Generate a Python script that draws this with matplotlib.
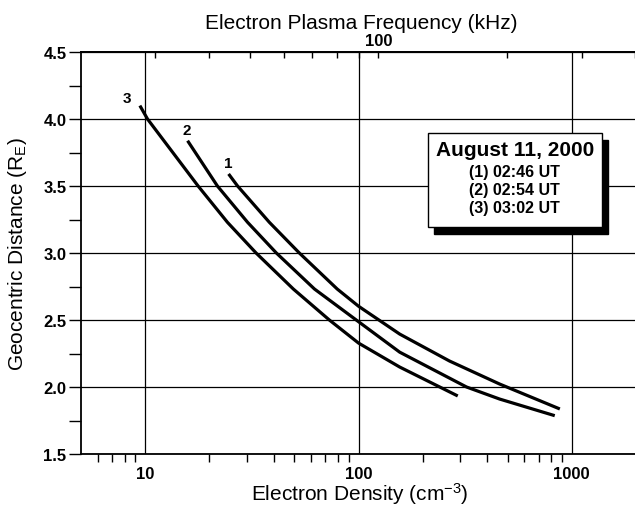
import matplotlib
matplotlib.use("Agg")
import matplotlib.pyplot as plt
from matplotlib.patches import Rectangle
from matplotlib.ticker import FixedLocator, NullFormatter
import numpy as np

plt.rcParams['font.family'] = ['Liberation Sans', 'DejaVu Sans']
plt.rcParams['mathtext.default'] = 'regular'

# curves: density (cm^-3) vs distance (RE)
dens_1 = [24.6, 27.1, 38.2, 52.8, 79.5, 100, 156, 267, 459, 879]
dist_1 = [3.59, 3.50, 3.229, 3.00, 2.731, 2.603, 2.395, 2.194, 2.022, 1.836]

dens_2 = [15.8, 21.8, 30.2, 41.2, 62.2, 97.6, 156, 321, 459, 832]
dist_2 = [3.838, 3.50, 3.229, 3.00, 2.731, 2.50, 2.26, 2.00, 1.91, 1.786]

dens_3 = [9.44, 10.25, 17.7, 24.3, 33.1, 49.5, 73.0, 100, 156, 292]
dist_3 = [4.10, 4.00, 3.50, 3.229, 3.00, 2.731, 2.50, 2.328, 2.149, 1.933]

curve_labels = ['1', '2', '3']
label_pos = [(24.5, 3.67), (15.6, 3.92), (8.2, 4.16)]

legend_title = 'August 11, 2000'
legend_lines = ['(1) 02:46 UT', '(2) 02:54 UT', '(3) 03:02 UT']

top_major = [100]
top_minor = [20, 30, 40, 50, 60, 70, 80, 90, 200, 300, 400]

W, H = 635, 506
fig = plt.figure(figsize=(W / 100, H / 100), dpi=100)
ax = fig.add_axes([81 / W, 1 - 455 / H, (636 - 81) / W, 402 / H])

for d, r in [(dens_1, dist_1), (dens_2, dist_2), (dens_3, dist_3)]:
    ax.plot(d, r, color='black', lw=2.3, solid_capstyle='butt', solid_joinstyle='round')

for lab, (x, y) in zip(curve_labels, label_pos):
    ax.text(x, y, lab, fontsize=11, fontweight='bold', ha='center', va='center')

ax.set_xscale('log')
ax.set_xlim(5, 2000)
ax.set_ylim(1.5, 4.5)

ax.set_yticks(np.arange(1.5, 4.51, 0.5))
ax.set_yticks(np.arange(1.75, 4.5, 0.5), minor=True)
ax.set_yticklabels(['%.1f' % v for v in np.arange(1.5, 4.51, 0.5)])
ax.set_xticks([10, 100, 1000])
ax.set_xticklabels(['10', '100', '1000'])
minor_x = [6, 7, 8, 9] + list(range(20, 100, 10)) + list(range(200, 1000, 100)) + [2000]
ax.xaxis.set_minor_locator(FixedLocator(minor_x))
ax.xaxis.set_minor_formatter(NullFormatter())

ax.tick_params(axis='y', which='both', direction='out', length=8.5, width=1,
               labelsize=12, pad=2, right=False)
ax.tick_params(axis='x', which='major', direction='out', length=0, labelsize=12, pad=9)
ax.tick_params(axis='x', which='minor', direction='out', length=5.8, width=1)
ax.tick_params(axis='x', top=False)
for t in ax.get_xticklabels() + ax.get_yticklabels():
    t.set_fontweight('bold')

ax.grid(True, which='major', color='black', lw=0.9)
for s in ['left', 'bottom', 'top']:
    ax.spines[s].set_linewidth(1.3)
ax.spines['right'].set_visible(False)

# plasma frequency axis: f (kHz) = 8.98 sqrt(n)
sec = ax.secondary_xaxis('top', functions=(lambda n: 8.98 * np.sqrt(np.abs(n)),
                                           lambda f: (f / 8.98) ** 2))
sec.xaxis.set_major_locator(FixedLocator(top_major))
sec.xaxis.set_minor_locator(FixedLocator(top_minor))
sec.xaxis.set_minor_formatter(NullFormatter())
sec.set_xticklabels([str(v) for v in top_major])
sec.tick_params(which='both', direction='in', length=4.5, width=1, labelsize=12, pad=3)
for t in sec.get_xticklabels():
    t.set_fontweight('bold')
sec.spines['top'].set_linewidth(1.3)

fig.text(361 / W, 1 - 24 / H, 'Electron Plasma Frequency (kHz)', fontsize=15,
         ha='center', va='center')
fig.text(360 / W, 1 - 494 / H, 'Electron Density (cm$^{-3}$)', fontsize=15,
         ha='center', va='center')
fig.text(18 / W, 1 - 254 / H, 'Geocentric Distance (R$_E$)', fontsize=15,
         ha='center', va='center', rotation=90)

# legend box with drop shadow
bx0, by0, bx1, by1 = 428, 134, 602, 228
fig.patches.append(Rectangle(((bx0 + 6) / W, 1 - (by1 + 7) / H), (bx1 - bx0) / W,
                             (by1 - by0) / H, transform=fig.transFigure,
                             facecolor='black', edgecolor='black', zorder=5))
fig.patches.append(Rectangle((bx0 / W, 1 - by1 / H), (bx1 - bx0) / W, (by1 - by0) / H,
                             transform=fig.transFigure, facecolor='white',
                             edgecolor='black', lw=1.0, zorder=6))
fig.text(515 / W, 1 - 151 / H, legend_title, fontsize=15, fontweight='bold',
         ha='center', va='center', zorder=7)
for i, line in enumerate(legend_lines):
    fig.text(514 / W, 1 - (173 + 18 * i) / H, line, fontsize=11.5, fontweight='bold',
             ha='center', va='center', zorder=7)

fig.savefig('out.png', dpi=100)
